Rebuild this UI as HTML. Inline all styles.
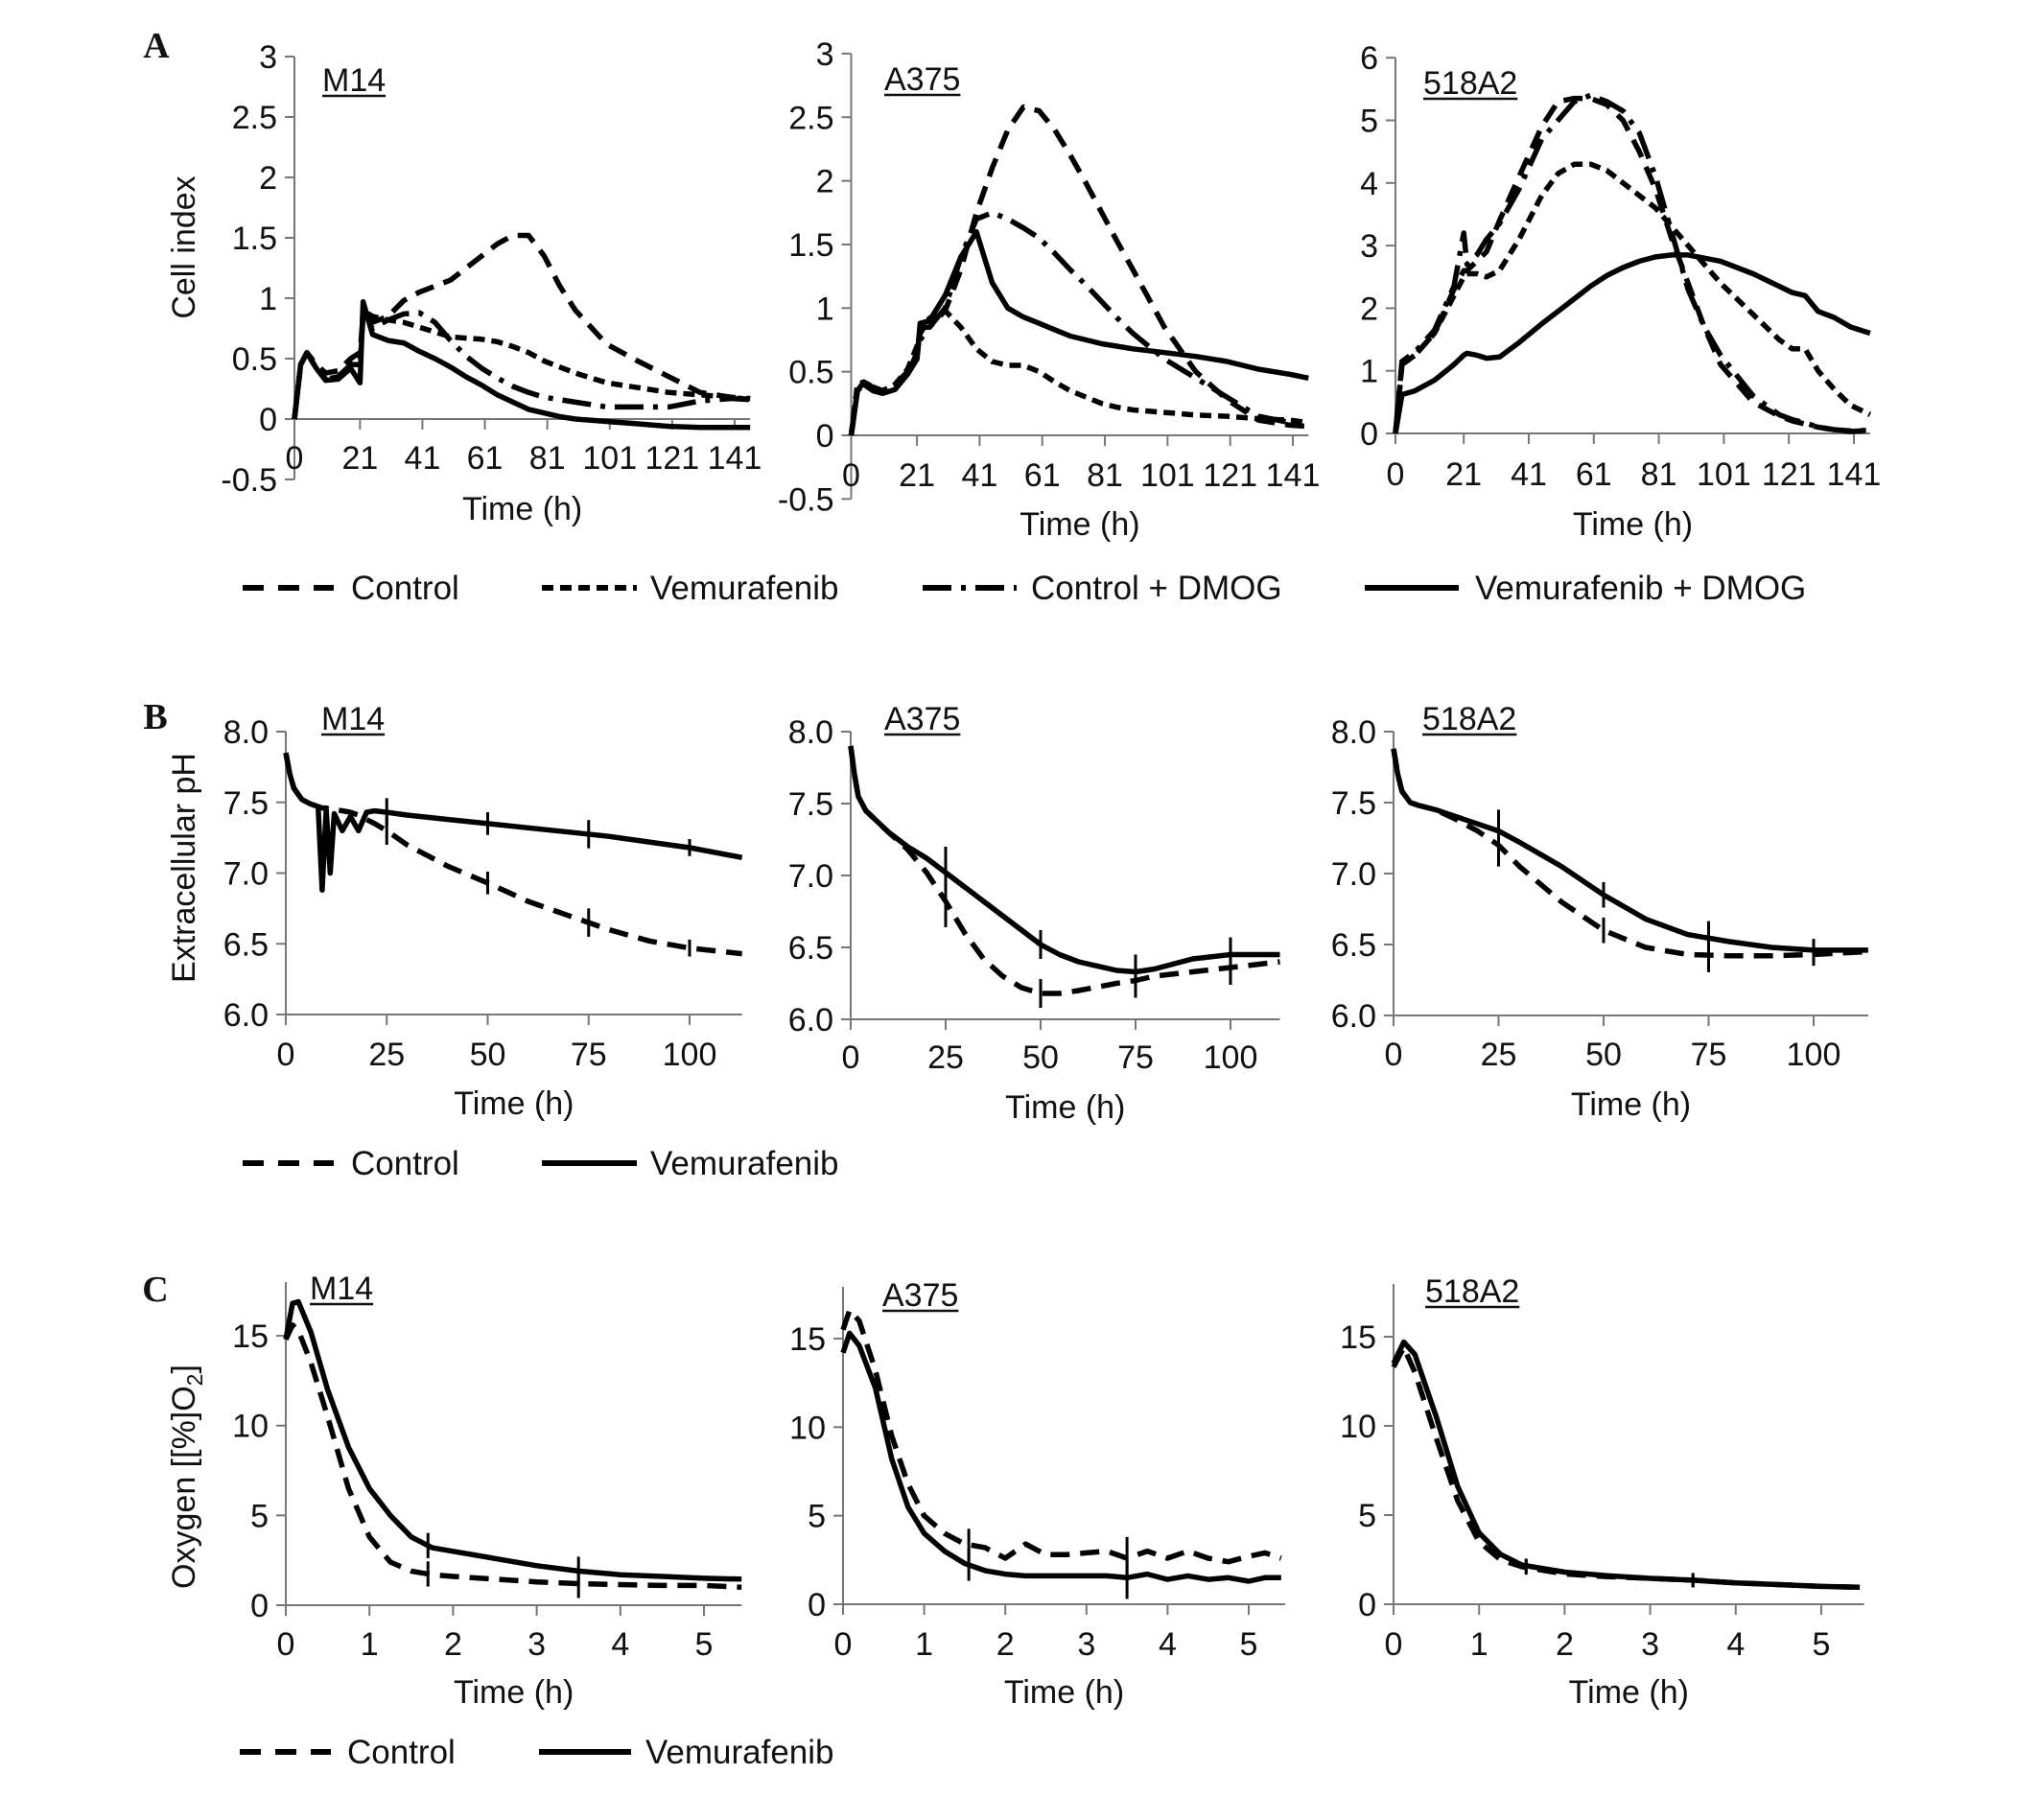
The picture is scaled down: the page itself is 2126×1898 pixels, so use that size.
<!DOCTYPE html>
<html><head><meta charset="utf-8"><style>
html,body{margin:0;padding:0;background:#fff}
svg{display:block}
text{font-family:"Liberation Sans",Arial,sans-serif;fill:#111}
</style></head><body>
<svg id="fig" width="2126" height="1898" viewBox="0 0 2126 1898" xmlns="http://www.w3.org/2000/svg"></svg>
<script>
// ---------- Panel A data (Cell index) ----------
const A1_t = [0,2,4,7,10,14,18,21,22,25,30,35,40,45,50,55,60,65,70,75,80,85,90,100,110,120,130,140,146];
const A1_control = [0,0.45,0.55,0.45,0.38,0.4,0.5,0.55,0.85,0.8,0.85,0.98,1.05,1.1,1.15,1.25,1.35,1.45,1.52,1.52,1.35,1.1,0.9,0.62,0.48,0.35,0.22,0.18,0.17];
const A1_vem = [0,0.45,0.55,0.42,0.33,0.35,0.45,0.45,0.9,0.85,0.82,0.8,0.76,0.72,0.68,0.67,0.66,0.64,0.6,0.55,0.48,0.43,0.38,0.3,0.26,0.22,0.2,0.18,0.16];
const A1_ctrlDmog = [0,0.45,0.55,0.42,0.33,0.35,0.45,0.5,0.85,0.75,0.82,0.87,0.88,0.8,0.65,0.52,0.42,0.34,0.27,0.22,0.18,0.16,0.14,0.1,0.1,0.1,0.15,0.17,0.16];
const A1_vemDmog = [0,0.45,0.55,0.42,0.32,0.33,0.42,0.3,0.97,0.7,0.65,0.63,0.56,0.5,0.43,0.35,0.28,0.2,0.14,0.08,0.05,0.02,0,-0.02,-0.04,-0.06,-0.07,-0.07,-0.07];

const A2_t = [0,2,4,7,10,14,18,21,22,25,30,35,40,45,50,55,60,65,70,75,80,85,90,100,110,120,130,140,146];
const A2_control = [0,0.35,0.4,0.38,0.35,0.4,0.5,0.6,0.85,0.85,0.98,1.3,1.75,2.1,2.4,2.58,2.55,2.4,2.2,1.98,1.75,1.52,1.3,0.85,0.5,0.28,0.12,0.08,0.07];
const A2_vem = [0,0.4,0.42,0.38,0.35,0.4,0.52,0.7,0.8,0.92,0.98,0.85,0.68,0.58,0.55,0.55,0.5,0.42,0.35,0.3,0.25,0.22,0.2,0.18,0.16,0.15,0.13,0.12,0.1];
const A2_ctrlDmog = [0,0.35,0.4,0.35,0.33,0.37,0.48,0.65,0.75,0.85,1.0,1.4,1.7,1.75,1.7,1.63,1.55,1.43,1.3,1.18,1.05,0.92,0.8,0.6,0.45,0.3,0.15,0.1,0.08];
const A2_vemDmog = [0,0.35,0.42,0.36,0.33,0.36,0.48,0.6,0.88,0.9,1.1,1.4,1.6,1.2,1.0,0.93,0.88,0.83,0.78,0.75,0.72,0.7,0.68,0.65,0.62,0.58,0.52,0.48,0.45];

const A3_t = [0,2,6,12,18,21,22,25,28,32,38,45,50,55,60,65,70,75,80,85,90,95,100,110,118,122,126,130,135,140,146];
const A3_control = [0,1.1,1.25,1.6,2.3,2.6,2.6,2.75,2.9,3.4,4.1,4.9,5.3,5.35,5.35,5.25,5.0,4.5,3.9,3.1,2.4,1.7,1.1,0.5,0.28,0.2,0.15,0.1,0.06,0.03,0.05];
const A3_vem = [0,1.1,1.25,1.6,2.2,2.5,2.55,2.55,2.5,2.6,3.1,3.8,4.15,4.3,4.3,4.2,4.0,3.8,3.6,3.3,3.0,2.7,2.4,1.9,1.5,1.35,1.35,1.0,0.7,0.45,0.3];
const A3_ctrlDmog = [0,1.15,1.3,1.65,2.35,3.2,2.7,2.85,3.1,3.35,3.9,4.7,5.0,5.3,5.4,5.3,5.15,4.8,4.1,3.2,2.3,1.7,1.25,0.6,0.3,0.22,0.17,0.1,0.06,0.04,0.05];
const A3_vemDmog = [0,0.62,0.68,0.85,1.1,1.25,1.28,1.25,1.2,1.22,1.45,1.75,1.95,2.15,2.35,2.52,2.65,2.75,2.82,2.85,2.85,2.8,2.75,2.55,2.35,2.25,2.2,1.95,1.85,1.7,1.6];

const A_xTicks = [0,21,41,61,81,101,121,141];
const A12_yTicks = [-0.5,0,0.5,1,1.5,2,2.5,3];
const A3_yTicks = [0,1,2,3,4,5,6];

// ---------- Panel B data (Extracellular pH) ----------
const B1_t = [0,1,2,4,6,8,9,10,11,12,14,16,18,20,22,25,30,40,50,60,70,80,90,100,113];
const B1_control = [7.85,7.7,7.6,7.52,7.49,7.47,7.46,7.46,7.45,7.45,7.44,7.43,7.41,7.38,7.35,7.3,7.2,7.05,6.93,6.8,6.7,6.6,6.52,6.47,6.43];
const B1_vem = [7.85,7.7,7.6,7.52,7.49,7.47,6.88,7.45,7.0,7.42,7.3,7.4,7.3,7.43,7.44,7.43,7.41,7.38,7.35,7.32,7.29,7.26,7.22,7.18,7.11];
const B2_t = [0,1,2,4,6,10,15,20,25,30,35,40,45,50,55,60,70,75,80,90,100,113];
const B2_control = [7.9,7.7,7.55,7.45,7.4,7.3,7.18,7.02,6.82,6.6,6.42,6.3,6.22,6.18,6.18,6.2,6.25,6.27,6.3,6.33,6.36,6.4];
const B2_vem = [7.9,7.7,7.55,7.45,7.4,7.3,7.2,7.12,7.02,6.92,6.82,6.72,6.62,6.52,6.45,6.4,6.34,6.33,6.35,6.42,6.45,6.45];
const B3_t = [0,1,2,4,6,10,15,20,25,30,40,50,60,70,80,90,100,113];
const B3_control = [7.88,7.7,7.58,7.5,7.48,7.45,7.38,7.3,7.2,7.05,6.8,6.6,6.48,6.43,6.42,6.42,6.43,6.45];
const B3_vem = [7.88,7.7,7.58,7.5,7.48,7.45,7.4,7.35,7.3,7.22,7.05,6.85,6.68,6.57,6.52,6.48,6.46,6.46];
const B_errX = [25,50,75,100];
const B1_errHalf = [0.1,0.08,0.1,0.06];
const B2_errHalf = [0.18,0.1,0.12,0.12];
const B3_errHalf = [0.15,0.09,0.12,0.08];
const B_xTicks = [0,25,50,75,100];
const B_yTicks = [6.0,6.5,7.0,7.5,8.0];

// ---------- Panel C data (Oxygen) ----------
const C1_t = [0,0.08,0.15,0.3,0.5,0.75,1,1.25,1.5,1.75,2,2.5,3,3.5,4,4.5,5,5.45];
const C1_control = [14.8,15.6,15.3,13.5,10.5,6.5,3.8,2.4,1.9,1.7,1.6,1.45,1.3,1.2,1.15,1.1,1.1,1.0];
const C1_vem = [14.8,16.8,16.9,15.2,12,8.8,6.5,5.0,3.8,3.2,3.0,2.6,2.2,1.9,1.7,1.6,1.5,1.45];
const C2_t = [0,0.08,0.2,0.4,0.6,0.8,1,1.25,1.5,1.75,2,2.25,2.5,2.75,3,3.25,3.5,3.75,4,4.25,4.5,4.75,5,5.2,5.4];
const C2_control = [15.5,16.6,16.0,13.2,9.5,6.8,5.0,4.0,3.4,3.2,2.6,3.4,2.8,2.8,2.9,3.0,2.6,3.0,2.6,3.0,2.6,2.4,2.7,2.9,2.6];
const C2_vem = [14.2,15.3,14.6,12.2,8.2,5.5,4.0,3.0,2.3,1.9,1.7,1.6,1.6,1.6,1.6,1.6,1.5,1.7,1.4,1.6,1.4,1.5,1.3,1.5,1.5];
const C3_t = [0,0.12,0.25,0.5,0.75,1,1.25,1.5,2,2.5,3,3.5,4,4.5,5,5.45];
const C3_control = [13.3,14.4,13.0,9.3,5.8,3.5,2.5,2.1,1.7,1.55,1.45,1.35,1.2,1.1,1.0,0.95];
const C3_vem = [13.5,14.7,14.0,10.5,6.6,4.0,2.8,2.2,1.8,1.6,1.45,1.35,1.2,1.1,1.0,0.95];
const C1_errX = [1.7,3.5];
const C23_errX = [1.55,3.5];
const C1_errHalf = [0.7,0.8];
const C2_errHalf = [0.9,1.2];
const C3_errHalf = [0.4,0.4];
const C_xTicks = [0,1,2,3,4,5];
const C_yTicks = [0,5,10,15];

const NS = 'http://www.w3.org/2000/svg';
const svg = document.getElementById('fig');
function el(tag, attrs, parent){ const e=document.createElementNS(NS,tag); for(const k in attrs) e.setAttribute(k,attrs[k]); (parent||svg).appendChild(e); return e; }
function txt(s, x, y, size, anchor, parent, name, extra){
  const t = el('text', Object.assign({x:x,y:y,'font-size':size,'text-anchor':anchor||'middle'}, extra||{}), parent);
  t.textContent = s;
  
  
  return t;
}
const DASH = {control:'20 11', vem:'12 7', ctrlDmog:'30 10 5 10', vemDmog:'none'};
const TICK_FS = 34;

function makePanel(cfg){
  const g = el('g', {});
  
  
  const sx = v => cfg.x0 + (v - 0) * cfg.xs;
  const sy = v => cfg.yRef + (cfg.vRef - v) * cfg.ys;
  const ya = el('line', {x1:cfg.x0, x2:cfg.x0, y1:cfg.yTop!==undefined?cfg.yTop:sy(cfg.ymax), y2:sy(cfg.ymin), stroke:'#777','stroke-width':2}, g);
  
  
  cfg.yTicks.forEach(v => {
    const tk = el('line', {x1:cfg.x0-10, x2:cfg.x0, y1:sy(v), y2:sy(v), stroke:'#777','stroke-width':2}, g);
    
    
    txt(cfg.yFmt(v), cfg.x0-18, sy(v)+12, TICK_FS, 'end', g, 'y-tick-label');
  });
  const xa = el('line', {x1:cfg.x0, x2:sx(cfg.xmax), y1:sy(cfg.axisV), y2:sy(cfg.axisV), stroke:'#777','stroke-width':2}, g);
  
  
  cfg.xTicks.forEach(v => {
    const tk = el('line', {x1:sx(v), x2:sx(v), y1:sy(cfg.axisV), y2:sy(cfg.axisV)+11, stroke:'#777','stroke-width':2}, g);
    
    
    txt(String(v), sx(v), cfg.xLabY, TICK_FS, 'middle', g, 'x-tick-label');
  });
  txt('Time (h)', (cfg.x0 + sx(cfg.xmax))/2, cfg.xTitleY, 34, 'middle', g, 'x-axis-title');
  const tt = txt(cfg.title, cfg.titleX, cfg.titleY, 34, 'start', g, 'panel-title');
  let tw = cfg.title.length * 19;
  try { tw = tt.getComputedTextLength(); } catch(e) {}
  const ul = el('line', {x1:cfg.titleX, x2:cfg.titleX+tw, y1:cfg.titleY+5, y2:cfg.titleY+5, stroke:'#111','stroke-width':2.5}, g);
  
  
  cfg.series.forEach(s => {
    let d = '';
    s.t.forEach((tv,i) => { d += (i?'L':'M') + sx(tv).toFixed(1) + ',' + sy(s.v[i]).toFixed(1); });
    const p = el('path', {d:d, fill:'none', stroke:'#000','stroke-width':5.5,'stroke-linejoin':'round','stroke-linecap':'butt'}, g);
    if(DASH[s.kind] !== 'none') p.setAttribute('stroke-dasharray', DASH[s.kind]);
    
    
    if(s.errX){
      s.errX.forEach((ex,i) => {
        let yv = s.v[s.v.length-1];
        for(let k=1;k<s.t.length;k++){ if(s.t[k]>=ex){ const f=(ex-s.t[k-1])/(s.t[k]-s.t[k-1]); yv=s.v[k-1]+f*(s.v[k]-s.v[k-1]); break; } }
        const eb = el('line', {x1:sx(ex), x2:sx(ex), y1:sy(yv+s.errHalf[i]), y2:sy(yv-s.errHalf[i]), stroke:'#000','stroke-width':3}, g);
        
        
      });
    }
  });
}
const fA = v => String(v);
const fB = v => v.toFixed(1);

makePanel({name:'chart-a-m14', title:'M14', titleX:336, titleY:95, x0:307, xs:3.255, yRef:437, vRef:0, ys:126, ymin:-0.5, ymax:3, xmax:146, axisV:0,
  xTicks:A_xTicks, yTicks:A12_yTicks, yFmt:fA, xLabY:489, xTitleY:542,
  series:[{name:'m14-control-line',kind:'control',t:A1_t,v:A1_control},{name:'m14-vemurafenib-line',kind:'vem',t:A1_t,v:A1_vem},{name:'m14-control-dmog-line',kind:'ctrlDmog',t:A1_t,v:A1_ctrlDmog},{name:'m14-vemurafenib-dmog-line',kind:'vemDmog',t:A1_t,v:A1_vemDmog}]});
makePanel({name:'chart-a-a375', title:'A375', titleX:922, titleY:94, x0:887.5, xs:3.266, yRef:454, vRef:0, ys:132.7, ymin:-0.5, ymax:3, xmax:146, axisV:0,
  xTicks:A_xTicks, yTicks:A12_yTicks, yFmt:fA, xLabY:507, xTitleY:558,
  series:[{name:'a375-control-line',kind:'control',t:A2_t,v:A2_control},{name:'a375-vemurafenib-line',kind:'vem',t:A2_t,v:A2_vem},{name:'a375-control-dmog-line',kind:'ctrlDmog',t:A2_t,v:A2_ctrlDmog},{name:'a375-vemurafenib-dmog-line',kind:'vemDmog',t:A2_t,v:A2_vemDmog}]});
makePanel({name:'chart-a-518a2', title:'518A2', titleX:1484, titleY:98, x0:1455, xs:3.39, yRef:452, vRef:0, ys:65.3, ymin:0, ymax:6, xmax:146, axisV:0,
  xTicks:A_xTicks, yTicks:A3_yTicks, yFmt:fA, xLabY:506, xTitleY:558,
  series:[{name:'518a2-control-line',kind:'control',t:A3_t,v:A3_control},{name:'518a2-vemurafenib-line',kind:'vem',t:A3_t,v:A3_vem},{name:'518a2-control-dmog-line',kind:'ctrlDmog',t:A3_t,v:A3_ctrlDmog},{name:'518a2-vemurafenib-dmog-line',kind:'vemDmog',t:A3_t,v:A3_vemDmog}]});

makePanel({name:'chart-b-m14', title:'M14', titleX:335, titleY:761, x0:298, xs:4.21, yRef:763, vRef:8, ys:147.5, ymin:6, ymax:8, xmax:113, axisV:6,
  xTicks:B_xTicks, yTicks:B_yTicks, yFmt:fB, xLabY:1111, xTitleY:1162,
  series:[{name:'ph-m14-control-line',kind:'control',t:B1_t,v:B1_control,errX:B_errX,errHalf:B1_errHalf},{name:'ph-m14-vemurafenib-line',kind:'vemDmog',t:B1_t,v:B1_vem,errX:B_errX,errHalf:B1_errHalf}]});
makePanel({name:'chart-b-a375', title:'A375', titleX:922, titleY:761, x0:887, xs:3.96, yRef:763, vRef:8, ys:150, ymin:6, ymax:8, xmax:113, axisV:6,
  xTicks:B_xTicks, yTicks:B_yTicks, yFmt:fB, xLabY:1114, xTitleY:1166,
  series:[{name:'ph-a375-control-line',kind:'control',t:B2_t,v:B2_control,errX:B_errX,errHalf:B2_errHalf},{name:'ph-a375-vemurafenib-line',kind:'vemDmog',t:B2_t,v:B2_vem,errX:B_errX,errHalf:B2_errHalf}]});
makePanel({name:'chart-b-518a2', title:'518A2', titleX:1483, titleY:761, x0:1453, xs:4.38, yRef:763, vRef:8, ys:148, ymin:6, ymax:8, xmax:113, axisV:6,
  xTicks:B_xTicks, yTicks:B_yTicks, yFmt:fB, xLabY:1111, xTitleY:1163,
  series:[{name:'ph-518a2-control-line',kind:'control',t:B3_t,v:B3_control,errX:B_errX,errHalf:B3_errHalf},{name:'ph-518a2-vemurafenib-line',kind:'vemDmog',t:B3_t,v:B3_vem,errX:B_errX,errHalf:B3_errHalf}]});

makePanel({name:'chart-c-m14', title:'M14', titleX:323, titleY:1355, x0:298, xs:87.2, yRef:1674, vRef:0, ys:18.73, ymin:0, ymax:18.9, yTop:1337, xmax:5.45, axisV:0,
  xTicks:C_xTicks, yTicks:C_yTicks, yFmt:fA, xLabY:1726, xTitleY:1776,
  series:[{name:'o2-m14-control-line',kind:'control',t:C1_t,v:C1_control,errX:C1_errX,errHalf:C1_errHalf},{name:'o2-m14-vemurafenib-line',kind:'vemDmog',t:C1_t,v:C1_vem,errX:C1_errX,errHalf:C1_errHalf}]});
makePanel({name:'chart-c-a375', title:'A375', titleX:920, titleY:1362, x0:879, xs:84.6, yRef:1673, vRef:0, ys:18.47, ymin:0, ymax:18, yTop:1342, xmax:5.45, axisV:0,
  xTicks:C_xTicks, yTicks:C_yTicks, yFmt:fA, xLabY:1726, xTitleY:1776,
  series:[{name:'o2-a375-control-line',kind:'control',t:C2_t,v:C2_control,errX:C23_errX,errHalf:C2_errHalf},{name:'o2-a375-vemurafenib-line',kind:'vemDmog',t:C2_t,v:C2_vem,errX:C23_errX,errHalf:C2_errHalf}]});
makePanel({name:'chart-c-518a2', title:'518A2', titleX:1486, titleY:1358, x0:1453, xs:89.2, yRef:1673, vRef:0, ys:18.6, ymin:0, ymax:18, yTop:1339, xmax:5.5, axisV:0,
  xTicks:C_xTicks, yTicks:C_yTicks, yFmt:fA, xLabY:1726, xTitleY:1776,
  series:[{name:'o2-518a2-control-line',kind:'control',t:C3_t,v:C3_control,errX:C23_errX,errHalf:C3_errHalf},{name:'o2-518a2-vemurafenib-line',kind:'vemDmog',t:C3_t,v:C3_vem,errX:C23_errX,errHalf:C3_errHalf}]});

const serifStyle = 'font-family:"Liberation Serif",serif;font-weight:bold';
txt('A', 163, 60, 38, 'middle', svg, 'panel-label-a', {style:serifStyle});
txt('B', 162, 760, 38, 'middle', svg, 'panel-label-b', {style:serifStyle});
txt('C', 162, 1357, 38, 'middle', svg, 'panel-label-c', {style:serifStyle});

txt('Cell index', 0, 0, 34, 'middle', svg, 'y-axis-title-cell-index', {transform:'translate(203,258) rotate(-90)'});
txt('Extracellular pH', 0, 0, 34, 'middle', svg, 'y-axis-title-ph', {transform:'translate(203,905) rotate(-90)'});
const oy = txt('Oxygen [[%]O', 0, 0, 34, 'middle', svg, 'y-axis-title-oxygen', {transform:'translate(203,1540) rotate(-90)'});
const sub = document.createElementNS(NS,'tspan'); sub.setAttribute('font-size','23'); sub.setAttribute('dy','8'); sub.textContent='2'; oy.appendChild(sub);
const cl = document.createElementNS(NS,'tspan'); cl.setAttribute('dy','-8'); cl.textContent=']'; oy.appendChild(cl);

function legend(y, entries){
  entries.forEach(e => {
    const g = el('g', {});
    
    
    const ln = el('line', {x1:e.x1, x2:e.x2, y1:y, y2:y, stroke:'#000','stroke-width':6}, g);
    if(DASH[e.kind] !== 'none') ln.setAttribute('stroke-dasharray', DASH[e.kind]==='20 11'?'22 15':DASH[e.kind]);
    
    
    txt(e.label, e.tx, y+12, 35, 'start', g, 'legend-label');
  });
}
legend(613, [{x1:253,x2:348,kind:'control',label:'Control',tx:366},{x1:565,x2:664,kind:'vem',label:'Vemurafenib',tx:678},{x1:962,x2:1060,kind:'ctrlDmog',label:'Control + DMOG',tx:1075},{x1:1423,x2:1521,kind:'vemDmog',label:'Vemurafenib + DMOG',tx:1538}]);
legend(1213, [{x1:253,x2:348,kind:'control',label:'Control',tx:366},{x1:565,x2:664,kind:'vemDmog',label:'Vemurafenib',tx:678}]);
legend(1827, [{x1:250,x2:345,kind:'control',label:'Control',tx:362},{x1:562,x2:658,kind:'vemDmog',label:'Vemurafenib',tx:673}]);
</script>
</body></html>
